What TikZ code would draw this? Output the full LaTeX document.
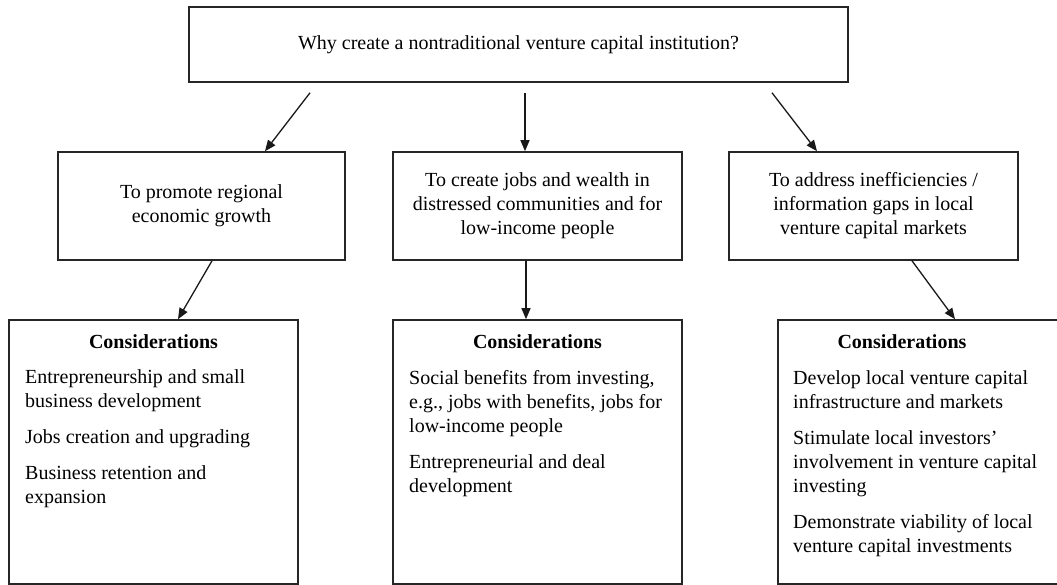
\documentclass[tikz,border=0pt]{standalone}
\usepackage{fontspec}
\setmainfont{Liberation Serif}
\usetikzlibrary{arrows.meta}

% a block of left-aligned lines whose baseline is that of its first line
\newcommand\stackedlines[1]{\vtop{\baselineskip=24pt #1}}
\newcommand\gap{\vskip 12pt}

\begin{document}
\begin{tikzpicture}[x=1pt,y=-1pt,
  every node/.style={font=\fontsize{20}{24}\selectfont},
  box/.style={draw=black!85, line width=1.6pt, rectangle, inner sep=0pt, align=center},
  conn/.style={draw=black!90, line width=1.3pt, -{Triangle[length=11pt,width=9pt]}},
  txt/.style={inner sep=0pt, anchor=base west},
  head/.style={inner sep=0pt, anchor=base, font=\fontsize{20}{24}\selectfont\bfseries}]
\useasboundingbox (0,0) rectangle (1057,585);

% question
\node[box, minimum width=659pt, minimum height=75pt] (top) at (518.5,44.5)
  {Why create a nontraditional venture capital institution?};

% goals
\node[box, minimum width=287pt, minimum height=108pt] (g1) at (201.5,206)
  {To promote regional\\economic growth};
\node[box, minimum width=289pt, minimum height=108pt] (g2) at (537.5,206)
  {To create jobs and wealth in\\distressed communities and for\\low-income people};
\node[box, minimum width=289pt, minimum height=108pt] (g3) at (873.5,206)
  {To address inefficiencies /\\information gaps in local\\venture capital markets};

% considerations
\node[box, minimum width=289pt, minimum height=264pt] (c1) at (153.5,452) {};
\node[box, minimum width=289pt, minimum height=264pt] (c2) at (537.5,452) {};
\node[box, minimum width=292pt, minimum height=264pt] (c3) at (924,452) {};

\node[head] (h1) at (153.5,348) {Considerations};
\node[head] (h2) at (537.5,348) {Considerations};
\node[head] (h3) at (902,348) {Considerations};

\node[txt] (t1) at (25,383) {\stackedlines{%
  \hbox{Entrepreneurship and small}\hbox{business development}\gap
  \hbox{Jobs creation and upgrading}\gap
  \hbox{Business retention and}\hbox{expansion}}};
\node[txt] (t2) at (409,384) {\stackedlines{%
  \hbox{Social benefits from investing,}\hbox{e.g., jobs with benefits, jobs for}\hbox{low-income people}\gap
  \hbox{Entrepreneurial and deal}\hbox{development}}};
\node[txt] (t3) at (793,384) {\stackedlines{%
  \hbox{Develop local venture capital}\hbox{infrastructure and markets}\gap
  \hbox{Stimulate local investors’}\hbox{involvement in venture capital}\hbox{investing}\gap
  \hbox{Demonstrate viability of local}\hbox{venture capital investments}}};

% connectors
\draw[conn] ([xshift=-208.5pt,yshift=-10pt]top.south) -- ([xshift=63.5pt]g1.north);
\draw[conn] ([xshift=6.5pt,yshift=-10pt]top.south) -- ([xshift=-12.5pt]g2.north);
\draw[conn] ([xshift=253.5pt,yshift=-10pt]top.south) -- ([xshift=-56.5pt]g3.north);

\draw[conn] ([xshift=10.5pt]g1.south) -- ([xshift=24.5pt]c1.north);
\draw[conn] ([xshift=-11.5pt]g2.south) -- ([xshift=-11.5pt]c2.north);
\draw[conn] ([xshift=38.5pt]g3.south) -- ([xshift=31pt]c3.north);
\end{tikzpicture}
\end{document}
